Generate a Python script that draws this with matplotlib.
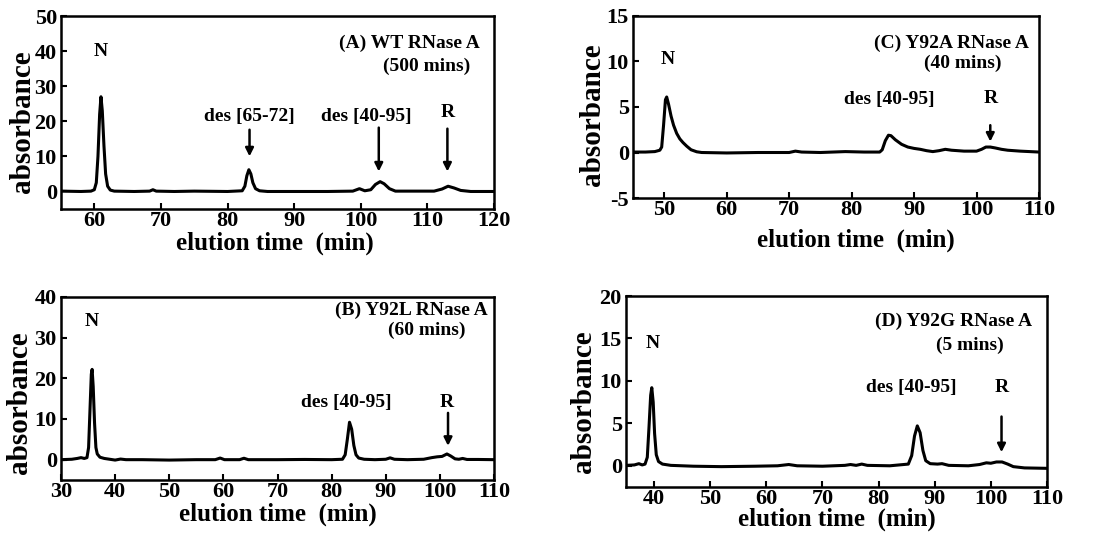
import matplotlib
matplotlib.use("Agg")
import matplotlib.pyplot as plt

plt.rcParams['font.family'] = ['Liberation Serif', 'DejaVu Serif']
plt.rcParams['font.weight'] = 'bold'

# traces: elution time (min) and absorbance
time_a = [55, 58, 59.5, 60, 60.3, 60.55, 60.8, 61.0, 61.2, 61.45, 61.7, 62.0, 62.4, 63, 66,
          68.3, 68.8, 69.3, 72, 75, 80, 82.2, 82.6, 82.9, 83.2, 83.5, 83.8, 84.2, 84.8, 86,
          90, 95, 98.8, 99.8, 100.6, 101.5, 102.2, 102.9, 103.5, 104.3, 105.2, 108, 111,
          112.2, 113.1, 114, 115, 116.5, 120]
abs_a = [0.1, 0, 0.1, 0.5, 2.5, 10, 22, 27, 23, 13, 5, 1.5, 0.4, 0.1, 0,
         0.1, 0.5, 0.1, 0, 0.1, 0, 0.2, 1.5, 4.5, 6.2, 5, 2.5, 0.8, 0.2, 0,
         0, 0, 0.1, 0.8, 0.2, 0.5, 2, 2.8, 2.2, 0.8, 0.1, 0.1, 0.1,
         0.7, 1.5, 1.0, 0.3, 0, 0]

time_b = [30, 32, 33, 33.7, 34.3, 34.8, 35.1, 35.35, 35.6, 35.75, 35.95, 36.2, 36.45, 36.7,
          37.2, 38, 39, 40, 41, 42, 45, 50, 55, 58.5, 59.4, 60.2, 63, 63.8, 64.6, 70, 75,
          80, 82, 82.5, 82.9, 83.3, 83.7, 84.1, 84.5, 85, 86, 88, 90, 90.8, 91.6, 94, 97,
          98.5, 99.5, 100.4, 101.3, 102, 102.8, 103.5, 104.2, 105, 107, 110]
abs_b = [0, 0.1, 0.3, 0.5, 0.3, 0.5, 3, 12, 21, 22.2, 18, 9, 3, 1.4,
         0.6, 0.3, 0.1, -0.1, 0.15, 0, 0, -0.1, 0, 0, 0.4, 0, 0, 0.35, 0, 0, 0.05,
         0, 0.1, 1.2, 5, 9.2, 7.5, 3.5, 1.2, 0.4, 0.1, 0, 0.1, 0.45, 0.1, 0, 0.1,
         0.5, 0.7, 0.8, 1.4, 0.9, 0.2, 0.1, 0.3, 0.05, 0.05, 0]

time_c = [45, 47, 48.5, 49.3, 49.6, 49.9, 50.2, 50.4, 50.7, 51.1, 51.5, 52, 52.5, 53, 53.6,
          54.3, 55.2, 56, 60, 65, 70, 71, 72, 75, 79, 82, 84.5, 84.9, 85.4, 85.9, 86.3, 87,
          88, 89, 90, 91, 92, 93, 94, 95, 96, 98, 100, 100.8, 101.5, 102.2, 103, 104, 105,
          107, 110]
abs_c = [0.05, 0.05, 0.1, 0.25, 0.6, 3, 5.8, 6.1, 5.3, 4, 3, 2.1, 1.5, 1.1, 0.7,
         0.3, 0.08, 0, -0.05, 0, 0, 0.15, 0.05, 0, 0.1, 0.05, 0.05, 0.3, 1.3, 1.9, 1.85, 1.4,
         0.9, 0.6, 0.45, 0.35, 0.2, 0.1, 0.2, 0.35, 0.25, 0.15, 0.15, 0.35, 0.6, 0.6, 0.5, 0.35, 0.25,
         0.15, 0.05]

time_d = [35, 36.5, 37.3, 37.9, 38.4, 38.8, 39.1, 39.4, 39.6, 39.85, 40.1, 40.4, 40.8, 41.5,
          43, 47, 52, 58, 62, 64, 65.5, 70, 74, 75, 76, 77, 78, 82, 85.3, 85.9, 86.4, 86.9,
          87.4, 87.9, 88.4, 89.2, 90.5, 91.3, 92.5, 96, 98, 99.2, 100, 101, 102, 103, 104,
          106, 110]
abs_d = [0.05, 0.1, 0.25, 0.1, 0.2, 1, 4.5, 8.3, 9.2, 7.5, 3.8, 1.3, 0.5, 0.2,
         0.05, -0.05, -0.1, -0.05, 0, 0.15, 0, -0.05, 0.05, 0.15, 0.05, 0.2, 0.05, 0, 0.2, 1.2, 3.5, 4.7,
         3.9, 1.8, 0.6, 0.25, 0.2, 0.25, 0.05, 0, 0.15, 0.35, 0.3, 0.45, 0.45, 0.2, -0.1,
         -0.25, -0.3]

fig = plt.figure(figsize=(10.93, 5.35), dpi=100)

# axes rectangles in figure fractions
panels = [
    dict(rect=[0.0558, 0.6093, 0.3962, 0.3607], t=time_a, y=abs_a, xlim=(55, 120), ylim=(-5, 50),
         yticks=[0, 10, 20, 30, 40, 50], xticks=range(60, 121, 10),
         title=("(A) WT RNase A", 117.9, 42.3), sub=("(500 mins)", 109.9, 35.8),
         n=(61, 39.8),
         peaks=[("des [65-72]", 83.3, 21.5, 83.3, 17.6, 10),
                ("des [40-95]", 100.9, 21.5, 102.7, 18.2, 5.7),
                ("R", 113, 22.4, 113, 17.9, 5.7)],
         ylab=(-0.09, 0.45), xlab=(0.494, -0.175)),
    dict(rect=[0.0558, 0.1028, 0.3962, 0.3421], t=time_b, y=abs_b, xlim=(30, 110), ylim=(-5, 40),
         yticks=[0, 10, 20, 30, 40], xticks=range(30, 111, 10),
         title=("(B) Y92L RNase A", 108.8, 36.8), sub=("(60 mins)", 97.5, 31.9),
         n=(35.6, 33.9),
         peaks=[("des [40-95]", 82.8, 14, None, None, None),
                ("R", 101.3, 14, 101.5, 11.5, 3.4)],
         ylab=(-0.095, 0.42), xlab=(0.5, -0.19)),
    dict(rect=[0.5791, 0.6299, 0.3715, 0.3402], t=time_c, y=abs_c, xlim=(45, 110), ylim=(-5, 15),
         yticks=[-5, 0, 5, 10, 15], xticks=range(50, 111, 10),
         title=("(C) Y92A RNase A", 108.4, 12.0), sub=("(40 mins)", 97.8, 9.8),
         n=(50.5, 10.2),
         peaks=[("des [40-95]", 86.1, 5.8, None, None, None),
                ("R", 102.2, 5.9, 102.2, 3.0, 1.2)],
         ylab=(-0.1, 0.456), xlab=(0.55, -0.235)),
    dict(rect=[0.5727, 0.0897, 0.3852, 0.3570], t=time_d, y=abs_d, xlim=(35, 110), ylim=(-2.5, 20),
         yticks=[0, 5, 10, 15, 20], xticks=range(40, 111, 10),
         title=("(D) Y92G RNase A", 107.4, 17.0), sub=("(5 mins)", 96.2, 14.2),
         n=(39.8, 14.4),
         peaks=[("des [40-95]", 85.9, 9.2, None, None, None),
                ("R", 101.9, 9.2, 101.9, 5.8, 1.6)],
         ylab=(-0.1, 0.445), xlab=(0.5, -0.17)),
]

for p in panels:
    ax = fig.add_axes(p['rect'])
    ax.plot(p['t'], p['y'], color='black', linewidth=2.2, solid_joinstyle='round')
    ax.set_xlim(*p['xlim'])
    ax.set_ylim(*p['ylim'])
    ax.set_xticks(list(p['xticks']))
    ax.set_yticks(p['yticks'])
    ax.set_yticklabels([str(v) for v in p['yticks']])
    ax.tick_params(direction='in', length=4, width=1.5, labelsize=16,
                   top=False, right=False)
    ax.tick_params(axis='x', pad=1.5)
    ax.tick_params(axis='y', pad=3)
    for s in ax.spines.values():
        s.set_linewidth(1.8)

    ax.set_ylabel("absorbance", fontsize=21, fontweight='bold', va='center')
    ax.yaxis.set_label_coords(*p['ylab'])
    ax.set_xlabel("elution time  (min)", fontsize=18, fontweight='bold', va='center')
    ax.xaxis.set_label_coords(*p['xlab'])

    txt, tx, ty = p['title']
    ax.text(tx, ty, txt, fontsize=14, fontweight='bold', ha='right', va='center')
    txt, tx, ty = p['sub']
    ax.text(tx, ty, txt, fontsize=14, fontweight='bold', ha='center', va='center')
    ax.text(p['n'][0], p['n'][1], "N", fontsize=14, fontweight='bold', ha='center', va='center')

    for label, lx, ly, axx, y0, y1 in p['peaks']:
        ax.text(lx, ly, label, fontsize=14, fontweight='bold', ha='center', va='center')
        if axx is not None:
            ax.annotate('', xy=(axx, y1), xytext=(axx, y0),
                        arrowprops=dict(arrowstyle='-|>', color='black', lw=1.8,
                                        mutation_scale=12, shrinkA=0, shrinkB=0))

fig.savefig("out.png", dpi=100)
